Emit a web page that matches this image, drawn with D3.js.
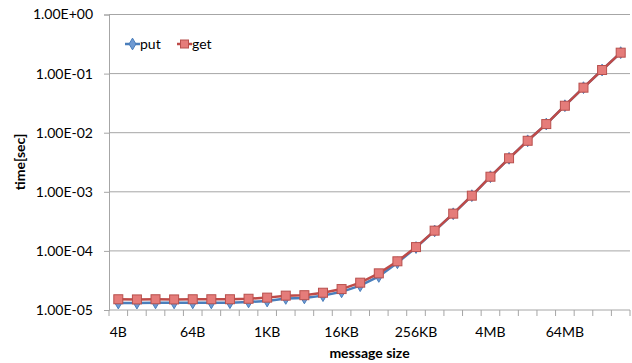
<!DOCTYPE html>
<html lang="en">
<head>
    <meta charset="UTF-8">
    <title>put / get</title>
    <style>
        body { margin: 0; background: #fff; }
        text { font-family: Lato, "Open Sans", sans-serif; fill: #000; }
    </style>
</head>
<body>
<script src="https://cdn.jsdelivr.net/npm/d3@7"></script>
<script>
    var width = 632;
    var height = 363;

    var sizes = ["4B","8B","16B","32B","64B","128B","256B","512B","1KB","2KB","4KB","8KB",
        "16KB","32KB","64KB","128KB","256KB","512KB","1MB","2MB","4MB","8MB","16MB","32MB",
        "64MB","128MB","256MB","512MB"];
    var shownLabels = ["4B","64B","1KB","16KB","256KB","4MB","64MB"];
    var yTicks = [1e-5, 1e-4, 1e-3, 1e-2, 1e-1, 1];

    var putTimes = [1.31e-5,1.31e-5,1.32e-5,1.32e-5,1.32e-5,1.32e-5,1.33e-5,1.37e-5,1.42e-5,1.57e-5,
        1.6e-5,1.75e-5,2.03e-5,2.58e-5,3.7e-5,6.3e-5,1.14e-4,2.18e-4,4.25e-4,8.6e-4,
        1.8e-3,3.69e-3,7.3e-3,1.4e-2,2.86e-2,5.78e-2,0.115,0.226];
    var getTimes = [1.52e-5,1.51e-5,1.52e-5,1.51e-5,1.52e-5,1.52e-5,1.52e-5,1.55e-5,1.62e-5,1.75e-5,
        1.78e-5,1.96e-5,2.26e-5,2.9e-5,4.17e-5,6.67e-5,1.16e-4,2.2e-4,4.27e-4,8.6e-4,
        1.8e-3,3.69e-3,7.3e-3,1.4e-2,2.86e-2,5.78e-2,0.115,0.226];

    var plotLeft = 109, plotRight = 630, plotTop = 14.5, plotBottom = 310;

    var svg = d3.select('body')
        .append('svg')
        .attr('width', width)
        .attr('height', height);

    var x = d3.scaleBand().domain(sizes).range([plotLeft, plotRight]);
    var y = d3.scaleLog().domain([1e-5, 1]).range([plotBottom, plotTop]);

    // horizontal grid
    svg.append('g')
        .selectAll('line')
        .data(yTicks.slice(1))
        .enter()
        .append('line')
        .attr('x1', plotLeft).attr('x2', plotRight)
        .attr('y1', function(d){ return y(d); })
        .attr('y2', function(d){ return y(d); })
        .attr('stroke', '#a6a6a6')
        .attr('stroke-width', 1);

    // y axis
    var yAxis = d3.axisLeft(y)
        .tickValues(yTicks)
        .tickSize(5)
        .tickFormat(function(d){
            var e = Math.round(Math.log10(d));
            var s = Math.abs(e) < 10 ? '0' + Math.abs(e) : '' + Math.abs(e);
            return '1.00E' + (e < 0 ? '-' : '+') + s;
        });
    var gy = svg.append('g')
        .attr('transform', 'translate(' + plotLeft + ',0)')
        .call(yAxis);
    gy.select('.domain').attr('stroke', '#a6a6a6');
    gy.selectAll('.tick line').attr('stroke', '#a6a6a6');
    gy.selectAll('.tick text')
        .attr('x', -16)
        .attr('fill', '#000')
        .attr('font-size', '14px')
        .style('font-family', 'Lato, sans-serif');

    // x axis: ticks at band boundaries, labels at centres
    var gx = svg.append('g')
        .attr('transform', 'translate(0,' + plotBottom + ')');
    gx.append('line')
        .attr('x1', plotLeft).attr('x2', plotRight)
        .attr('stroke', '#a6a6a6');
    gx.selectAll('line.tk')
        .data(sizes.concat(['end']))
        .enter()
        .append('line')
        .attr('class', 'tk')
        .attr('x1', function(d, i){ return plotLeft + i * x.bandwidth(); })
        .attr('x2', function(d, i){ return plotLeft + i * x.bandwidth(); })
        .attr('y1', 0).attr('y2', 6)
        .attr('stroke', '#a6a6a6');
    gx.selectAll('text')
        .data(shownLabels)
        .enter()
        .append('text')
        .attr('x', function(d){ return x(d) + x.bandwidth() / 2; })
        .attr('y', 27)
        .attr('text-anchor', 'middle')
        .attr('font-size', '14px')
        .text(function(d){ return d; });

    // axis titles
    svg.append('text')
        .attr('x', (plotLeft + plotRight) / 2)
        .attr('y', 358)
        .attr('text-anchor', 'middle')
        .attr('font-size', '14px')
        .attr('font-weight', 'bold')
        .text('message size');
    svg.append('text')
        .attr('transform', 'translate(25,162) rotate(-90)')
        .attr('text-anchor', 'middle')
        .attr('font-size', '14px')
        .attr('font-weight', 'bold')
        .text('time[sec]');

    var line = d3.line()
        .x(function(d, i){ return x(sizes[i]) + x.bandwidth() / 2; })
        .y(function(d){ return y(d); });

    var series = [
        {name: 'put', values: putTimes, stroke: '#4a7ebb', fill: '#6f9ad3', marker: 'diamond'},
        {name: 'get', values: getTimes, stroke: '#be4b48', fill: '#e57c7a', marker: 'square'}
    ];

    var diamond = d3.symbol().type(d3.symbolDiamond).size(40);

    series.forEach(function(s){
        svg.append('path')
            .datum(s.values)
            .attr('d', line)
            .attr('fill', 'none')
            .attr('stroke', s.stroke)
            .attr('stroke-width', 2.5);
        var g = svg.append('g');
        s.values.forEach(function(v, i){
            var cx = x(sizes[i]) + x.bandwidth() / 2, cy = y(v);
            if (s.marker === 'square') {
                g.append('rect')
                    .attr('x', cx - 4.5).attr('y', cy - 4.5)
                    .attr('width', 9).attr('height', 9)
                    .attr('fill', s.fill)
                    .attr('stroke', '#b8504d')
                    .attr('stroke-width', 1);
            } else {
                g.append('path')
                    .attr('d', diamond)
                    .attr('transform', 'translate(' + cx + ',' + cy + ')')
                    .attr('fill', s.fill)
                    .attr('stroke', '#4a7ebb')
                    .attr('stroke-width', 1);
            }
        });
    });

    // legend
    var legend = svg.append('g').attr('transform', 'translate(125,44)');
    series.forEach(function(s, i){
        var lg = legend.append('g').attr('transform', 'translate(' + (i * 52) + ',0)');
        lg.append('line')
            .attr('x1', 0).attr('x2', 15)
            .attr('stroke', s.stroke)
            .attr('stroke-width', 2.5);
        if (s.marker === 'square') {
            lg.append('rect')
                .attr('x', 3.5).attr('y', -4).attr('width', 8).attr('height', 8)
                .attr('fill', s.fill).attr('stroke', '#b8504d');
        } else {
            lg.append('path')
                .attr('d', diamond)
                .attr('transform', 'translate(7.5,0)')
                .attr('fill', s.fill).attr('stroke', s.stroke);
        }
        lg.append('text')
            .attr('x', 15)
            .attr('y', 5)
            .attr('font-size', '14px')
            .text(s.name);
    });
</script>
</body>
</html>
